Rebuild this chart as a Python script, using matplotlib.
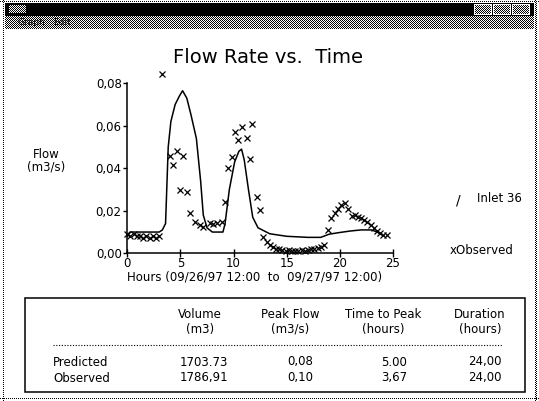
import numpy as np
import matplotlib
matplotlib.use("Agg")
from matplotlib import pyplot as plt
from matplotlib.patches import Rectangle
from matplotlib.lines import Line2D

plt.rcParams['font.family'] = ['DejaVu Sans']

# ---------------- dati ----------------
# portata prevista (Inlet 36), ore / m3/s
pred_h = [0.0, 0.3, 1.0, 2.0, 3.0, 3.3, 3.6, 3.85, 4.1, 4.5, 4.9, 5.2, 5.6,
          6.0, 6.5, 6.9, 7.15, 7.5, 8.0, 9.0, 9.2, 9.6, 10.1, 10.5, 10.75,
          11.0, 11.4, 11.8, 12.3, 13.4, 15.0, 17.0, 18.2, 19.0, 20.0, 21.0,
          22.0, 23.0, 23.5, 24.0]
pred_q = [0.008, 0.010, 0.010, 0.010, 0.010, 0.011, 0.014, 0.050, 0.062,
          0.070, 0.074, 0.0765, 0.073, 0.065, 0.054, 0.034, 0.018, 0.012,
          0.010, 0.010, 0.014, 0.030, 0.043, 0.048, 0.049, 0.044, 0.030,
          0.017, 0.012, 0.0092, 0.008, 0.0075, 0.0075, 0.009, 0.0098,
          0.0105, 0.011, 0.011, 0.010, 0.0085]

# portata osservata
obs_h = [0.0, 0.3, 0.6, 0.9, 1.2, 1.5, 1.8, 2.1, 2.4, 2.7, 3.0, 3.23,
         4.0, 4.32, 4.64, 5.26, 4.95, 5.58, 5.9, 6.36, 6.83, 7.14, 7.77,
         8.1, 8.4, 8.87, 9.18, 9.49, 9.81, 10.12, 10.43, 10.75, 11.22,
         11.53, 11.69, 12.16, 12.47, 12.78, 13.1, 13.4, 13.7, 14.0, 14.3,
         14.6, 14.9, 15.2, 15.5, 15.8, 16.1, 16.4, 16.7, 17.0, 17.3, 17.6,
         17.9, 18.2, 18.5, 18.9, 19.2, 19.5, 19.8, 20.15, 20.46, 20.77,
         21.1, 21.4, 21.7, 22.0, 22.3, 22.6, 22.9, 23.2, 23.5, 23.8, 24.1,
         24.4]
obs_q = [0.009, 0.008, 0.009, 0.008, 0.008, 0.007, 0.008, 0.007, 0.008,
         0.007, 0.008, 0.0844, 0.046, 0.0416, 0.048, 0.046, 0.0298, 0.029,
         0.0188, 0.0149, 0.0133, 0.0125, 0.0141, 0.014, 0.0141, 0.0149,
         0.0243, 0.040, 0.0455, 0.0572, 0.0533, 0.0596, 0.0541, 0.0442,
         0.0608, 0.0266, 0.0204, 0.0078, 0.0055, 0.0039, 0.0030, 0.0022,
         0.0018, 0.0014, 0.0012, 0.0015, 0.0011, 0.0013, 0.0012, 0.0015,
         0.0013, 0.0016, 0.0018, 0.0020, 0.0024, 0.0030, 0.0038, 0.011,
         0.0165, 0.0188, 0.021, 0.0227, 0.0235, 0.021, 0.0175, 0.018,
         0.017, 0.0165, 0.0157, 0.0149, 0.0135, 0.0118, 0.0104, 0.0095,
         0.0088, 0.0084]

y_ticks = [0.0, 0.02, 0.04, 0.06, 0.08]
y_ticklabels = ["0,00", "0,02", "0,04", "0,06", "0,08"]
x_ticks = [0, 5, 10, 15, 20, 25]

# tabella riassuntiva
col_headers = ["Volume\n(m3)", "Peak Flow\n(m3/s)", "Time to Peak\n(hours)",
               "Duration\n(hours)"]
row_names = ["Predicted", "Observed"]
table_vals = [["1703.73", "0,08", "5.00", "24,00"],
              ["1786,91", "0,10", "3,67", "24,00"]]

# ---------------- figura ----------------
W, H = 539, 401
fig = plt.figure(figsize=(W / 100., H / 100.), dpi=100)

def fx(px):
    return px / float(W)

def fy(py):
    return 1. - py / float(H)

# cornice della finestra (barra titolo nera, menu retinato, bordo puntinato)
img = np.ones((H, W))
chk = (np.indices((H, W)).sum(axis=0) % 2).astype(float)
img[1, ::2] = 0
img[398, ::2] = 0
img[::2, 3] = 0
img[::2, 535] = 0
img[1::2, 536] = 0
img[3:16, 5:534] = 0
img[16:29, 5:534] = chk[16:29, 5:534]
img[5:13, 9:26] = chk[5:13, 9:26]
for x0 in (474, 493, 512):
    img[4:15, x0:x0 + 18] = chk[4:15, x0:x0 + 18]
    img[4, x0:x0 + 18] = 1
    img[14, x0:x0 + 18] = 1
    img[4:15, x0] = 1
    img[4:15, x0 + 17] = 1
fig.figimage(img, 0, 0, cmap='gray', vmin=0, vmax=1, zorder=-5)

fig.text(fx(17), fy(22.5), "Graph", fontsize=6.5, va='center', color='black')
fig.text(fx(53), fy(22.5), "Edit", fontsize=6.5, va='center', color='black')

# grafico
ax = fig.add_axes([fx(127.3), fy(253.3), fx(393) - fx(127.3),
                   fy(83.3) - fy(253.3)])
ax.set_zorder(2)
ax.patch.set_alpha(0)
ax.plot(pred_h, pred_q, '-', color='black', lw=1.1)
ax.plot(obs_h, obs_q, 'x', color='black', ms=4.5, mew=0.9, clip_on=False)
ax.set_xlim(0, 25)
ax.set_ylim(0, 0.08)
ax.spines['top'].set_visible(False)
ax.spines['right'].set_visible(False)
ax.spines['left'].set_linewidth(1.1)
ax.spines['bottom'].set_linewidth(1.1)
ax.set_yticks(y_ticks)
ax.set_yticklabels(y_ticklabels)
ax.set_xticks(x_ticks)
ax.tick_params(axis='y', direction='out', length=3, width=1, pad=1,
               labelsize=8.5)
ax.tick_params(axis='x', direction='inout', length=6, width=1, pad=0,
               labelsize=8.5)

fig.text(fx(268), fy(57.5), "Flow Rate vs.  Time", fontsize=14,
         ha='center', va='center')
fig.text(fx(46), fy(161), "Flow\n(m3/s)", fontsize=8.5, ha='center',
         va='center', linespacing=0.95)
fig.text(fx(255), fy(277), "Hours (09/26/97 12:00  to  09/27/97 12:00)",
         fontsize=8.5, ha='center', va='center')

# legenda
fig.text(fx(458), fy(200), "/", fontsize=10, ha='center', va='center')
fig.text(fx(477), fy(198), "Inlet 36", fontsize=8.5, va='center')
fig.text(fx(450), fy(250), "xObserved", fontsize=8.5, va='center')

# tabella
fig.patches.append(Rectangle((fx(25), fy(392)), fx(525) - fx(25),
                             fy(298) - fy(392), transform=fig.transFigure,
                             fill=False, lw=1.1, edgecolor='black'))
fig.lines.append(Line2D([fx(53), fx(503)], [fy(345), fy(345)],
                        transform=fig.transFigure, color='black', lw=0.8,
                        ls=(0, (1, 1.5))))
col_center = [200, 290, 383, 480]
col_right = [228, 313, 407, 502]
for c, txt in enumerate(col_headers):
    fig.text(fx(col_center[c]), fy(321.5), txt, fontsize=8.5, ha='center',
             va='center', linespacing=1.2)
row_y = [362, 378]
for r, name in enumerate(row_names):
    fig.text(fx(53), fy(row_y[r]), name, fontsize=8.5, va='center')
    for c, v in enumerate(table_vals[r]):
        fig.text(fx(col_right[c]), fy(row_y[r]), v, fontsize=8.5,
                 ha='right', va='center')

fig.savefig("out.png", dpi=100)
